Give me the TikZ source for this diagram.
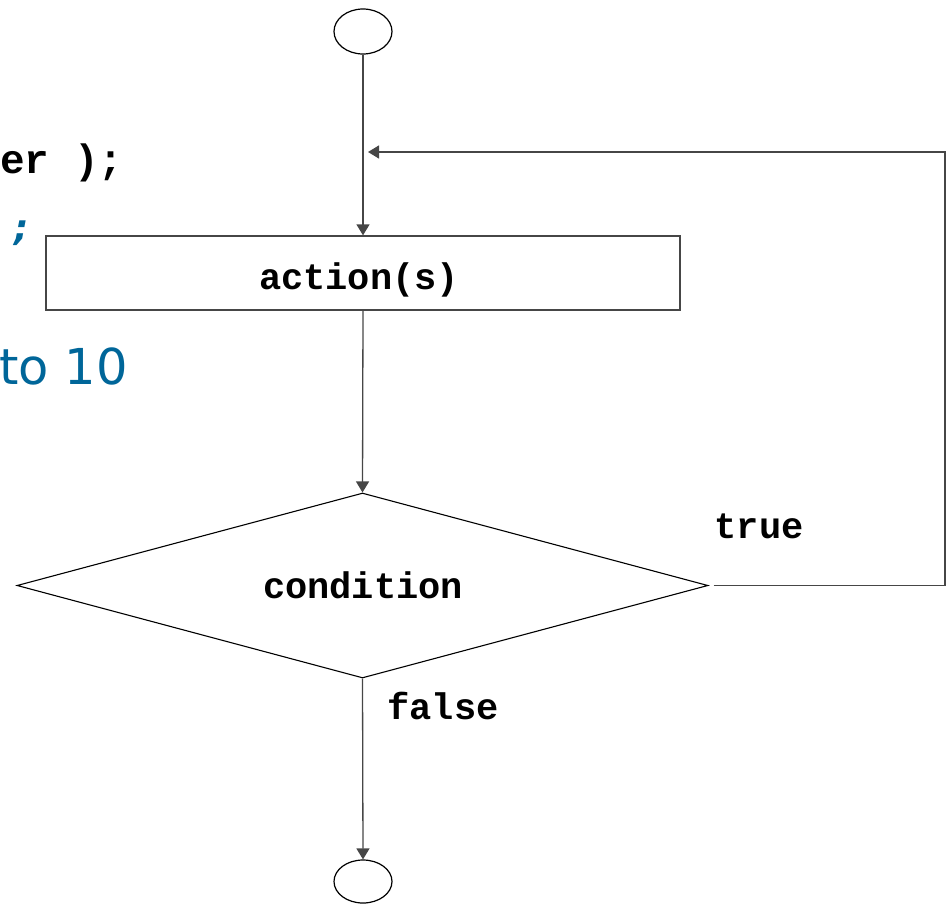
\documentclass[tikz,border=0pt]{standalone}
\usepackage{fontspec}
\setmainfont{DejaVu Sans}
\setmonofont{Liberation Mono}
\usetikzlibrary{shapes.geometric,arrows.meta}
\definecolor{codeblue}{RGB}{0,102,153}
\definecolor{linegray}{RGB}{70,70,70}
\tikzset{
  flowline/.style={draw=linegray, line width=1.3pt},
  flowarrow/.style={flowline, -{Triangle[width=13pt,length=11pt]}},
  terminal/.style={ellipse, draw=black, line width=1.2pt, inner sep=0pt},
  actionbox/.style={rectangle, draw=linegray, line width=1.3pt, inner sep=0pt},
  decision/.style={diamond, draw=black, line width=1.1pt, inner sep=0pt},
  codelabel/.style={inner sep=0pt, anchor=base, font=\ttfamily\bfseries\fontsize{37}{40}\selectfont},
}
\begin{document}
\begin{tikzpicture}[x=1pt,y=-1pt]
\useasboundingbox (0,0) rectangle (949,904);
\clip (0,0) rectangle (949,904);
% background code text fragments
\node[inner sep=0pt, anchor=base west, font=\ttfamily\bfseries\fontsize{41}{44}\selectfont] (codeA) at (0,173) {er );};
\node[inner sep=0pt, anchor=base, text=codeblue, font=\bfseries\itshape\fontsize{36}{40}\selectfont] (codeB) at (22,240) {;};
\node[inner sep=0pt, anchor=base west, text=codeblue, font=\fontsize{49.5}{54}\selectfont] (codeC) at (-1,384) {to 10};
% flowchart
\node[terminal, minimum width=58pt, minimum height=45pt] (start) at (363,31.5) {};
\node[actionbox, minimum width=634pt, minimum height=74pt] (act) at (363,273) {};
\node[codelabel] (actlabel) at (359,289) {action(s)};
\node[decision, minimum width=691pt, minimum height=185pt] (cond) at (362.5,585.5) {};
\node[codelabel] (condlabel) at (363,598) {condition};
\node[terminal, minimum width=58pt, minimum height=43pt] (stop) at (363,881.5) {};
\node[codelabel] (truelabel) at (759,538) {true};
\node[codelabel] (falselabel) at (443,719) {false};
\coordinate (loopcorner) at (945,152);
\coordinate (loopin) at (368,152);
\draw[flowarrow] (start.south) -- (act.north);
\draw[flowarrow] (act.south) -- (cond.north);
\draw[flowarrow] (cond.south) -- (stop.north);
\draw[flowarrow, shorten <=5pt] (cond.east) -- (cond.east -| loopcorner) -- (loopcorner) -- (loopin);
\end{tikzpicture}
\end{document}
